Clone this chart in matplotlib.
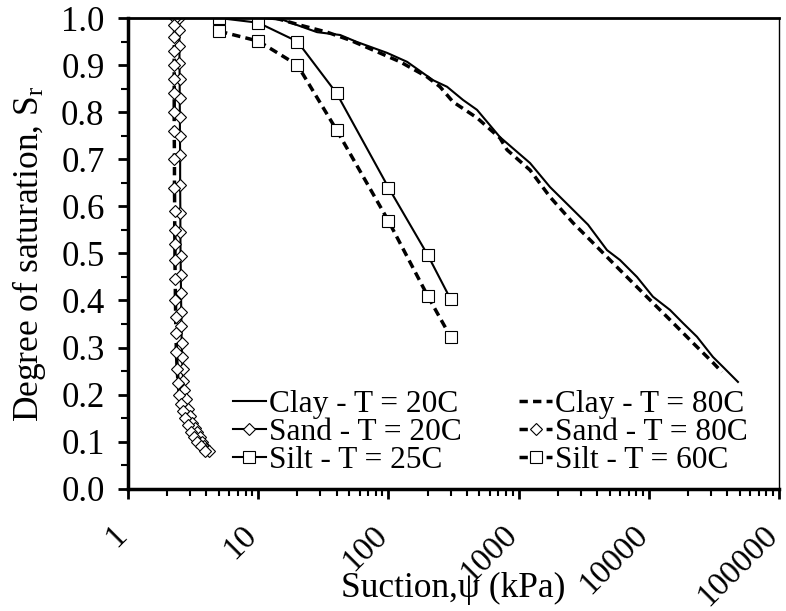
import matplotlib
matplotlib.use("Agg")
import matplotlib.pyplot as plt
from matplotlib.ticker import FixedLocator, NullFormatter, LogLocator
from matplotlib.transforms import ScaledTranslation

plt.rcParams['font.family'] = ['Liberation Serif', 'DejaVu Serif']
plt.rcParams['mathtext.fontset'] = 'custom'
plt.rcParams['mathtext.rm'] = 'Liberation Serif'
plt.rcParams['mathtext.it'] = 'Liberation Serif:italic'

# ---------------- data ----------------
clay20_x = [10.7, 15.5, 19.9, 28.3, 42.5, 57.4, 97.5, 139, 220, 282, 374, 479, 719, 1224, 1743,
            2483, 3415, 4777, 6010, 8116, 10770, 14550, 18320, 23460, 31120, 37150, 48440]
clay20_y = [1.0, 0.996, 0.985, 0.970, 0.964, 0.949, 0.926, 0.907, 0.868, 0.854, 0.826, 0.805, 0.747,
            0.692, 0.641, 0.599, 0.561, 0.507, 0.486, 0.450, 0.408, 0.380, 0.352, 0.323, 0.280, 0.259, 0.227]

clay80_x = [13.5, 20.9, 33.7, 50.7, 76.2, 123, 198, 249, 313, 479, 719, 815, 1224, 1743, 2617,
            4000, 5700, 9020, 14550, 21830, 31120, 36500]
clay80_y = [1.0, 0.985, 0.970, 0.953, 0.932, 0.907, 0.875, 0.854, 0.822, 0.788, 0.745, 0.720, 0.677,
            0.620, 0.565, 0.514, 0.471, 0.416, 0.359, 0.310, 0.268, 0.248]

sand20_x = [2.45, 2.47, 2.48, 2.48, 2.49, 2.49, 2.50, 2.50, 2.51, 2.51, 2.52, 2.52, 2.53, 2.54, 2.55,
            2.56, 2.57, 2.58, 2.60, 2.62, 2.65, 2.70, 2.78, 2.88, 3.0, 3.1, 3.25, 3.4, 3.55, 3.7,
            3.85, 4.0, 4.15]
sand20_y = [1.0, 0.975, 0.94, 0.905, 0.87, 0.83, 0.79, 0.75, 0.71, 0.645, 0.585, 0.545, 0.495, 0.455,
            0.415, 0.375, 0.345, 0.31, 0.28, 0.255, 0.23, 0.21, 0.19, 0.17, 0.155, 0.14, 0.13, 0.12,
            0.11, 0.10, 0.09, 0.085, 0.08]

sand80_x = [2.28, 2.27, 2.27, 2.26, 2.26, 2.26, 2.26, 2.26, 2.26, 2.27, 2.27, 2.28, 2.28, 2.29, 2.29,
            2.30, 2.31, 2.32, 2.33, 2.35, 2.38, 2.42, 2.48, 2.56, 2.65, 2.75, 2.9, 3.05, 3.2, 3.4,
            3.6, 3.9]
sand80_y = [1.0, 0.985, 0.96, 0.93, 0.90, 0.87, 0.84, 0.80, 0.76, 0.70, 0.64, 0.59, 0.55, 0.52, 0.485,
            0.445, 0.40, 0.365, 0.33, 0.29, 0.255, 0.225, 0.20, 0.18, 0.165, 0.15, 0.135, 0.12, 0.11,
            0.10, 0.09, 0.08]

silt25_x = [5, 10, 20, 40, 100, 200, 300]
silt25_y = [1.0, 0.99, 0.95, 0.84, 0.64, 0.497, 0.403]

silt60_x = [5, 10, 20, 40, 100, 200, 300]
silt60_y = [0.972, 0.951, 0.90, 0.762, 0.569, 0.410, 0.323]

x_ticks = [1, 10, 100, 1000, 10000, 100000]
x_tick_labels = ['1', '10', '100', '1000', '10000', '100000']
y_ticks = [0.0, 0.1, 0.2, 0.3, 0.4, 0.5, 0.6, 0.7, 0.8, 0.9, 1.0]

# ---------------- figure ----------------
fig = plt.figure(figsize=(7.86, 6.11), dpi=100)
ax = fig.add_axes([0.163, 0.2, 0.828, 0.7705])

dash = (0, (2.4, 1.5))
mk = dict(markerfacecolor='white', markeredgecolor='black', markeredgewidth=0.8)

ax.plot(clay20_x, clay20_y, color='black', lw=1.5, label='Clay - T = 20C')
ax.plot(sand20_x, sand20_y, color='black', lw=1.5, marker='D', markersize=6.5, label='Sand - T = 20C', **mk)
ax.plot(silt25_x, silt25_y, color='black', lw=1.5, marker='s', markersize=9, label='Silt - T = 25C', **mk)
ax.plot(clay80_x, clay80_y, color='black', lw=2.5, linestyle=dash, label='Clay - T = 80C')
ax.plot(sand80_x, sand80_y, color='black', lw=2.5, linestyle=dash, marker='D', markersize=6.5,
        label='Sand - T = 80C', **mk)
ax.plot(silt60_x, silt60_y, color='black', lw=2.5, linestyle=dash, marker='s', markersize=9,
        label='Silt - T = 60C', **mk)

ax.set_xscale('log')
ax.set_xlim(1, 100000)
ax.set_ylim(0, 1.0)

ax.xaxis.set_major_locator(FixedLocator(x_ticks))
ax.set_xticklabels(x_tick_labels)
ax.xaxis.set_minor_locator(LogLocator(base=10, subs=[2, 3, 4, 5, 6, 7, 8, 9]))
ax.xaxis.set_minor_formatter(NullFormatter())
ax.set_yticks(y_ticks)
ax.set_yticklabels([f'{v:.1f}' for v in y_ticks])
ax.yaxis.set_minor_locator(FixedLocator([0.05, 0.15, 0.25, 0.35, 0.45, 0.55, 0.65, 0.75, 0.85, 0.95]))

ax.tick_params(axis='both', which='major', direction='out', length=7, width=2, color='black')
ax.tick_params(axis='both', which='minor', direction='out', length=5, width=1.5)
ax.tick_params(axis='y', which='major', labelsize=25, pad=10)
ax.tick_params(axis='x', which='major', labelsize=24, pad=23)
off = ScaledTranslation(-6 / 100, 0, fig.dpi_scale_trans)
for lab in ax.get_xticklabels():
    lab.set_rotation(45)
    lab.set_ha('right')
    lab.set_va('center')
    lab.set_rotation_mode('anchor')
    lab.set_transform(lab.get_transform() + off)

ax.spines['left'].set_linewidth(2.5)
ax.spines['bottom'].set_linewidth(2.5)
ax.spines['top'].set_linewidth(2.0)
ax.spines['right'].set_linewidth(1.0)

ax.set_ylabel('Degree of saturation, S$_\\mathrm{r}$', fontsize=25.5)
ax.yaxis.set_label_coords(-0.123, 0.5)
ax.set_xlabel('Suction,\u03c8 (kPa)', fontsize=25.5, va='top')
ax.xaxis.set_label_coords(0.5, -0.176)

leg = ax.legend(ncol=2, frameon=False, fontsize=22.6, loc='lower left', bbox_to_anchor=(0.161, 0.03),
                handlelength=1.05, handletextpad=0.1, columnspacing=1.83, labelspacing=-0.03,
                borderaxespad=0.0, borderpad=0.0)

fig.savefig('out.png', dpi=100)
